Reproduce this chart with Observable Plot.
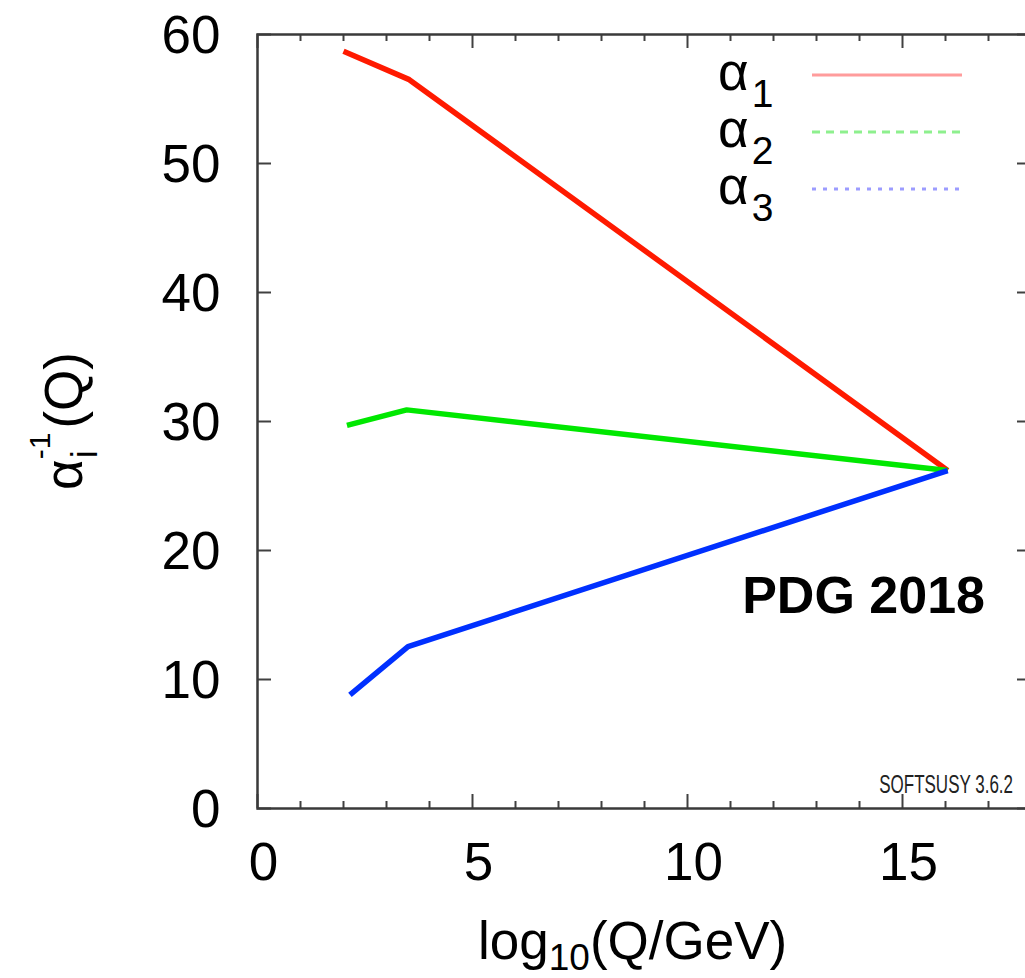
<!DOCTYPE html>
<html>
<head>
<meta charset="utf-8">
<script src="https://cdn.jsdelivr.net/npm/d3@7"></script>
<script src="https://cdn.jsdelivr.net/npm/@observablehq/plot@0.6"></script>
<style>
  html, body { margin: 0; padding: 0; background: #fff; overflow: hidden; }
  #chart svg { display: block; overflow: hidden; }
</style>
</head>
<body>
<div id="chart"></div>
<script>
// ---- data ----
const seriesNames = ["α1", "α2", "α3"];
const seriesColors = ["#ff1a00", "#00e800", "#0030ff"];
const legendColors = ["#ff9c9c", "#8ef08e", "#9c9cff"];
const legendDash = [null, "8,6", "4,7"];

const logQ_a1 = [2.0, 3.53, 16.05];
const inv_a1  = [58.7, 56.5, 26.2];
const logQ_a2 = [2.08, 3.47, 16.05];
const inv_a2  = [29.7, 30.9, 26.2];
const logQ_a3 = [2.15, 3.5, 16.05];
const inv_a3  = [8.8, 12.55, 26.2];

const xMajorTicks = [0, 5, 10, 15];
const xMinorTicks = [1, 2, 3, 4, 6, 7, 8, 9, 11, 12, 13, 14, 16, 17];
const yMajorTicks = [0, 10, 20, 30, 40, 50, 60];
const xDomain = [0, 18];
const yDomain = [0, 60];

// ---- build table ----
const rows = [];
[[logQ_a1, inv_a1], [logQ_a2, inv_a2], [logQ_a3, inv_a3]].forEach(([xs, ys], i) => {
  xs.forEach((x, j) => rows.push({series: seriesNames[i], x, y: ys[j]}));
});

// ---- layout ----
const W = 1025, H = 978;
const mL = 257, mT = 34, mB = 170, mR = -6;
const frameW = W - mL - mR, frameH = H - mT - mB;
const majorLen = 14, minorLen = 7;
const font = "'Liberation Sans', Arial, Helvetica, sans-serif";
const tickColor = "#404040";

const chart = Plot.plot({
  width: W, height: H,
  marginLeft: mL, marginTop: mT, marginBottom: mB, marginRight: mR,
  style: {fontFamily: font, color: "#000", background: "#fff"},
  x: {domain: xDomain},
  y: {domain: yDomain},
  color: {domain: seriesNames, range: seriesColors},
  marks: [
    // tick marks (all inward, gnuplot style)
    Plot.tickX(xMajorTicks, {x: d => d, insetTop: frameH - majorLen, stroke: tickColor, strokeWidth: 2}),
    Plot.tickX(xMajorTicks, {x: d => d, insetBottom: frameH - majorLen, stroke: tickColor, strokeWidth: 2}),
    Plot.tickX(xMinorTicks, {x: d => d, insetTop: frameH - minorLen, stroke: tickColor, strokeWidth: 2}),
    Plot.tickX(xMinorTicks, {x: d => d, insetBottom: frameH - minorLen, stroke: tickColor, strokeWidth: 2}),
    Plot.tickY(yMajorTicks, {y: d => d, insetRight: frameW - majorLen, stroke: tickColor, strokeWidth: 2}),
    Plot.tickY(yMajorTicks, {y: d => d, insetLeft: frameW - majorLen, stroke: tickColor, strokeWidth: 2}),
    // tick labels
    Plot.axisX(xMajorTicks, {tickSize: 0, tickPadding: 34, fontSize: 53, dx: 6, label: null, fill: "#000"}),
    Plot.axisY(yMajorTicks, {tickSize: 0, tickPadding: 37, fontSize: 53, dy: 2, label: null, fill: "#000"}),
    // data
    Plot.line(rows, {x: "x", y: "y", z: "series", stroke: "series", strokeWidth: 5.5,
                     strokeLinecap: "butt", strokeLinejoin: "round"}),
    Plot.frame({stroke: "#3a3a3a", strokeWidth: 2.5})
  ]
});
document.getElementById("chart").appendChild(chart);

// ---- annotations, axis titles and legend ----
const svg = d3.select(chart);
const g = svg.append("g").attr("font-family", font).attr("fill", "#000").attr("text-anchor", "start");

// y-axis title: α_i^{-1}(Q)
const yt = g.append("text")
  .attr("transform", `translate(82,${mT + frameH / 2}) rotate(-90)`)
  .attr("text-anchor", "middle")
  .attr("font-size", 53);
yt.append("tspan").text("α");
yt.append("tspan").attr("font-size", 36).attr("dx", 1).attr("dy", 15).text("i");
yt.append("tspan").attr("font-size", 30).attr("dx", -9).attr("dy", -47).text("-1");
yt.append("tspan").attr("dx", 4).attr("dy", 32).text("(Q)");

// x-axis title: log_10(Q/GeV)
const xt = g.append("text")
  .attr("x", 478).attr("y", 959)
  .attr("text-anchor", "start")
  .attr("font-size", 53);
xt.append("tspan").text("log");
xt.append("tspan").attr("font-size", 37).attr("dy", 11).text("10");
xt.append("tspan").attr("dy", -11).text("(Q/GeV)");

// PDG 2018
g.append("text")
  .attr("x", 985).attr("y", 613)
  .attr("text-anchor", "end")
  .attr("font-size", 52).attr("font-weight", "bold")
  .text("PDG 2018");

// SOFTSUSY 3.6.2 (narrow face)
g.append("text")
  .attr("transform", "translate(1013,793) scale(0.68,1)")
  .attr("text-anchor", "end")
  .attr("font-size", 25)
  .attr("fill", "#222")
  .text("SOFTSUSY 3.6.2");

// legend
const legend = g.append("g");
seriesNames.forEach((name, i) => {
  const base = 90 + i * 57;
  const t = legend.append("text").attr("x", 718).attr("y", base)
    .attr("text-anchor", "start").attr("font-size", 53);
  t.append("tspan").text(name.slice(0, 1));
  t.append("tspan").attr("font-size", 39).attr("dx", 3).attr("dy", 17).text(name.slice(1));
  const ln = legend.append("line")
    .attr("x1", 812).attr("x2", 962)
    .attr("y1", base - 15).attr("y2", base - 15)
    .attr("stroke", legendColors[i]).attr("stroke-width", 3);
  if (legendDash[i]) ln.attr("stroke-dasharray", legendDash[i]);
});
</script>
</body>
</html>
